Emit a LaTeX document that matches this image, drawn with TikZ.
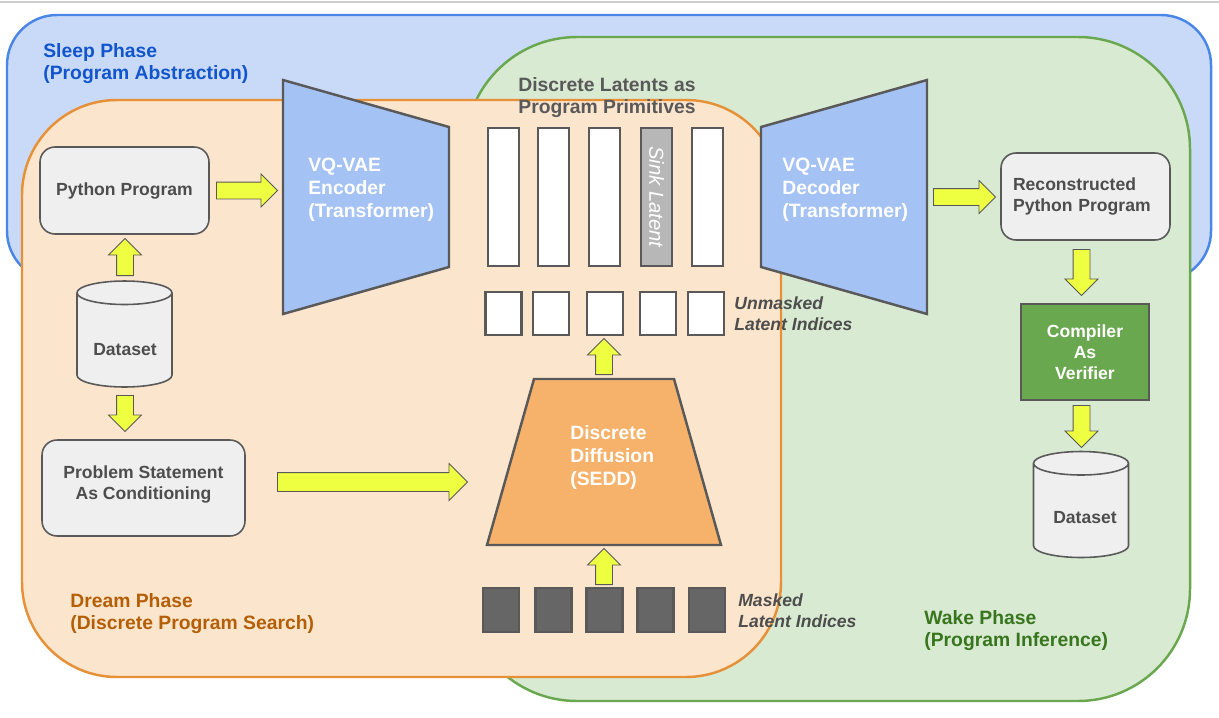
\documentclass[tikz,border=0pt]{standalone}
\usepackage{fontspec}
\setmainfont{Liberation Sans}
\usetikzlibrary{shapes.geometric, shapes.arrows, positioning}

\definecolor{sleepfill}{HTML}{C9DAF8}
\definecolor{sleepline}{HTML}{4A86E8}
\definecolor{sleeptext}{HTML}{1155CC}
\definecolor{wakefill}{HTML}{D9EAD3}
\definecolor{wakeline}{HTML}{6AA84F}
\definecolor{waketext}{HTML}{38761D}
\definecolor{dreamfill}{HTML}{FCE5CD}
\definecolor{dreamline}{HTML}{E69138}
\definecolor{dreamtext}{HTML}{B45F06}
\definecolor{vqblue}{HTML}{A4C2F4}
\definecolor{seddfill}{HTML}{F6B26B}
\definecolor{boxfill}{HTML}{EFEFEF}
\definecolor{edge}{HTML}{595959}
\definecolor{txt}{HTML}{4D4D4D}
\definecolor{sinkfill}{HTML}{B7B7B7}
\definecolor{maskfill}{HTML}{666666}
\definecolor{yel}{HTML}{EEFF41}
\definecolor{topline}{HTML}{CCCCCC}

\tikzset{
  big/.style={font=\fontsize{11}{13}\selectfont\bfseries},
  small/.style={font=\fontsize{10}{12}\selectfont\bfseries},
  phase/.style={line width=1.4pt},
  label text/.style={inner sep=0pt, align=left, anchor=west},
  prog/.style={draw=edge, line width=0.9pt, fill=boxfill, rounded corners=0.3cm,
    small, text=txt, minimum width=3.38cm, minimum height=1.74cm},
  db/.style={cylinder, shape border rotate=90, aspect=0.37, draw=edge,
    line width=0.9pt, fill=boxfill, small, inner sep=0pt,
    minimum width=1.9cm, minimum height=2.12cm, anchor=shape center},
  latent/.style={draw=edge, line width=1.2pt, fill=white, inner sep=0pt,
    minimum width=0.62cm, minimum height=2.76cm},
  idx/.style={draw=edge, line width=1.2pt, fill=white, inner sep=0pt,
    minimum width=0.72cm, minimum height=0.86cm},
  midx/.style={idx, fill=maskfill, minimum height=0.88cm},
  trap/.style={draw=edge, line width=1.4pt},
  yarrow/.style={single arrow, draw=edge, line width=0.5pt, fill=yel, anchor=tail,
    inner sep=0pt, inner ysep=0.16cm, single arrow head extend=0.16cm},
  bigarrow/.style={yarrow, inner ysep=0.18cm, single arrow head extend=0.18cm},
}

\begin{document}
\begin{tikzpicture}[x=0.02cm, y=-0.02cm]
\useasboundingbox (0,0) rectangle (1219,717);
\draw[topline, line width=0.8pt] (0,2) -- (1219,2);

% phases
\draw[phase, draw=sleepline, fill=sleepfill, rounded corners=1cm] (7,15) rectangle (1211,281);
\draw[phase, draw=wakeline, fill=wakefill, rounded corners=2.24cm] (465,37) rectangle (1190,701);
\draw[phase, draw=dreamline, fill=dreamfill, rounded corners=1.9cm] (22,100) rectangle (781,677);

\node[big, label text, text=sleeptext] (sleep) at (43,63.5) {Sleep Phase\\(Program Abstraction)};
\node[big, label text, text=dreamtext] (dream) at (70,613.5) {Dream Phase\\(Discrete Program Search)};
\node[big, label text, text=waketext] (wake) at (924,630.5) {Wake Phase\\(Program Inference)};
\node[big, label text, text=edge] (prims) at (518,97.5) {Discrete Latents as\\Program Primitives};

% left column
\node[prog] (py) at (124.5,190.5) {Python Program};
\node[db] (data) at (124.5,334) {\phantom{Dataset}};
\node[small, text=txt] (datatxt) at (125,350) {Dataset};
\node[prog, minimum width=4.06cm, minimum height=1.92cm, align=center, text depth=0.2cm] (cond) at (143.5,488) {Problem Statement\\As Conditioning};

% encoder / decoder
\draw[trap, fill=vqblue] (283,80) -- (449,127) -- (449,267) -- (283,314) -- cycle;
\node[big, label text, text=white] (enc) at (308,190) {VQ-VAE\\Encoder\\(Transformer)};
\draw[trap, fill=vqblue] (761,127) -- (927,80) -- (927,314) -- (761,267) -- cycle;
\node[big, label text, text=white] (dec) at (782,190) {VQ-VAE\\Decoder\\(Transformer)};

% latents
\node[latent] (lat1) at (503.5,197) {};
\node[latent] (lat2) at (553.5,197) {};
\node[latent] (lat3) at (604.5,197) {};
\node[latent, fill=sinkfill, rotate=-90, minimum width=2.76cm, minimum height=0.62cm,
  text=white, font=\fontsize{11.5}{13}\selectfont\itshape] (sink) at (656.5,197) {Sink Latent};
\node[latent] (lat5) at (707.5,197) {};

\node[idx] (un1) at (503.5,313.5) {};
\node[idx] (un2) at (551,313.5) {};
\node[idx] (un3) at (605,313.5) {};
\node[idx] (un4) at (658,313.5) {};
\node[idx] (un5) at (706,313.5) {};
\node[label text, text=txt, font=\fontsize{10}{12}\selectfont\bfseries\itshape] (unlbl) at (734,313.5) {Unmasked\\Latent Indices};

% diffusion
\draw[trap, fill=seddfill] (534,379) -- (674,379) -- (721,545) -- (487,545) -- cycle;
\node[big, label text, text=white] (sedd) at (570,457.5) {Discrete\\Diffusion\\(SEDD)};

\node[midx] (m1) at (501,610) {};
\node[midx] (m2) at (553.5,610) {};
\node[midx] (m3) at (604.5,610) {};
\node[midx] (m4) at (655.5,610) {};
\node[midx] (m5) at (707,610) {};
\node[label text, text=txt, font=\fontsize{10}{12}\selectfont\bfseries\itshape] (mlbl) at (738,610.5) {Masked\\Latent Indices};

% right column
\node[prog, text width=2.9cm, align=left] (rec) at (1085.5,196.5) {Reconstructed\\Python Program};
\node[draw=edge, line width=0.9pt, fill=wakeline, small, text=white, align=center,
  minimum width=2.56cm, minimum height=1.92cm] (ver) at (1085,352) {Compiler\\As\\Verifier};
\node[db] (data2) at (1081,504.5) {\phantom{Dataset}};
\node[small, text=txt] (data2txt) at (1085,518) {Dataset};

% block arrows
\node[yarrow, minimum height=1.22cm] (a1) at (216,190.5) {};
\node[yarrow, minimum height=0.74cm, rotate=90] (a2) at (125,276) {};
\node[yarrow, minimum height=0.72cm, rotate=-90] (a3) at (125,395) {};
\node[bigarrow, minimum height=3.8cm] (a4) at (277,482) {};
\node[yarrow, minimum height=0.72cm, rotate=90] (a5) at (604,585) {};
\node[yarrow, minimum height=0.72cm, rotate=90] (a6) at (604,375) {};
\node[yarrow, minimum height=1.24cm] (a7) at (933,197) {};
\node[yarrow, minimum height=0.92cm, rotate=-90] (a8) at (1081.5,249) {};
\node[yarrow, minimum height=0.84cm, rotate=-90] (a9) at (1081.5,405) {};
\end{tikzpicture}
\end{document}
